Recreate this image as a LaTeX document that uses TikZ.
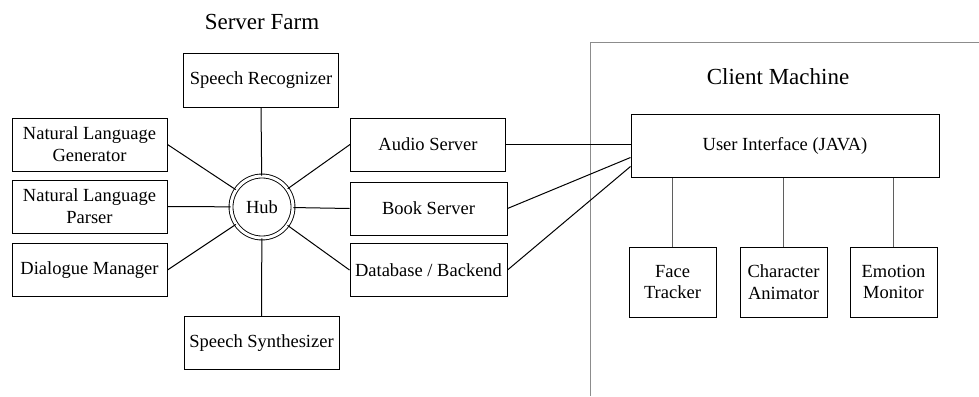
\documentclass[tikz,border=0pt]{standalone}
\usepackage{fontspec}
\setmainfont{Liberation Serif}
\usetikzlibrary{positioning,calc}
\definecolor{framegray}{RGB}{140,140,140}
\definecolor{lingray}{RGB}{95,95,95}

\begin{document}
\begin{tikzpicture}[x=1pt,y=-1pt,font=\fontsize{18.5}{21.7}\selectfont,
    box/.style={draw,line width=1pt,align=center,inner sep=0pt,minimum height=53pt},
    wide/.style={box,minimum width=155pt},
    small/.style={box,minimum width=87pt,minimum height=70pt},
    title/.style={font=\fontsize{23}{26}\selectfont},
    link/.style={line width=1pt},
    glink/.style={line width=1.1pt,lingray}]
  \useasboundingbox (0,0) rectangle (979,396);
  % server farm
  \node[title] (farm) at (262,22) {Server Farm};
  \node[draw,circle,double,double distance=3pt,line width=0.9pt,
        minimum size=62pt,inner sep=0pt] (hub) at (262,207) {Hub};
  \node[wide] (sr) at (261,80.5) {Speech Recognizer};
  \node[wide] (ss) at (261.5,343) {Speech Synthesizer};
  \node[wide] (nlg) at (89.5,144.5) {Natural Language\\Generator};
  \node[wide] (nlp) at (89.5,206.5) {Natural Language\\Parser};
  \node[wide] (dm) at (89.5,270) {Dialogue Manager};
  \node[wide] (audio) at (428,144.5) {Audio Server};
  \node[wide,minimum width=157pt] (book) at (428.5,208.5) {Book Server};
  \node[wide,minimum width=157pt] (db) at (428.5,270) {Database / Backend};
  \foreach \s/\a in {sr/south,ss/north,nlg/east,nlp/east,dm/east,
                     audio/west,book/west,db/west}
    \draw[link] (hub) -- (\s.\a);
  % client machine
  \draw[framegray,line width=1pt] (590,396) -- (590,43) -- (979,43);
  \node[title] (client) at (778,77) {Client Machine};
  \node[box,minimum width=308pt,minimum height=63pt] (ui) at (785,145.5)
    {User Interface (JAVA)};
  \node[small] (face) at (672.5,282) {Face\\Tracker};
  \node[small] (anim) at (783.5,282) {Character\\Animator};
  \node[small] (emo) at (893.5,282) {Emotion\\Monitor};
  \foreach \s in {face,anim,emo}
    \draw[glink] (\s.north) -- (\s.north |- ui.south);
  % links to the client
  \draw[link] (audio.east) -- (audio.east -| ui.west);
  \draw[link] (book.east) -- ($(ui.west)+(0,12)$);
  \draw[link] (db.east) -- ($(ui.west)+(0,21)$);
\end{tikzpicture}
\end{document}
